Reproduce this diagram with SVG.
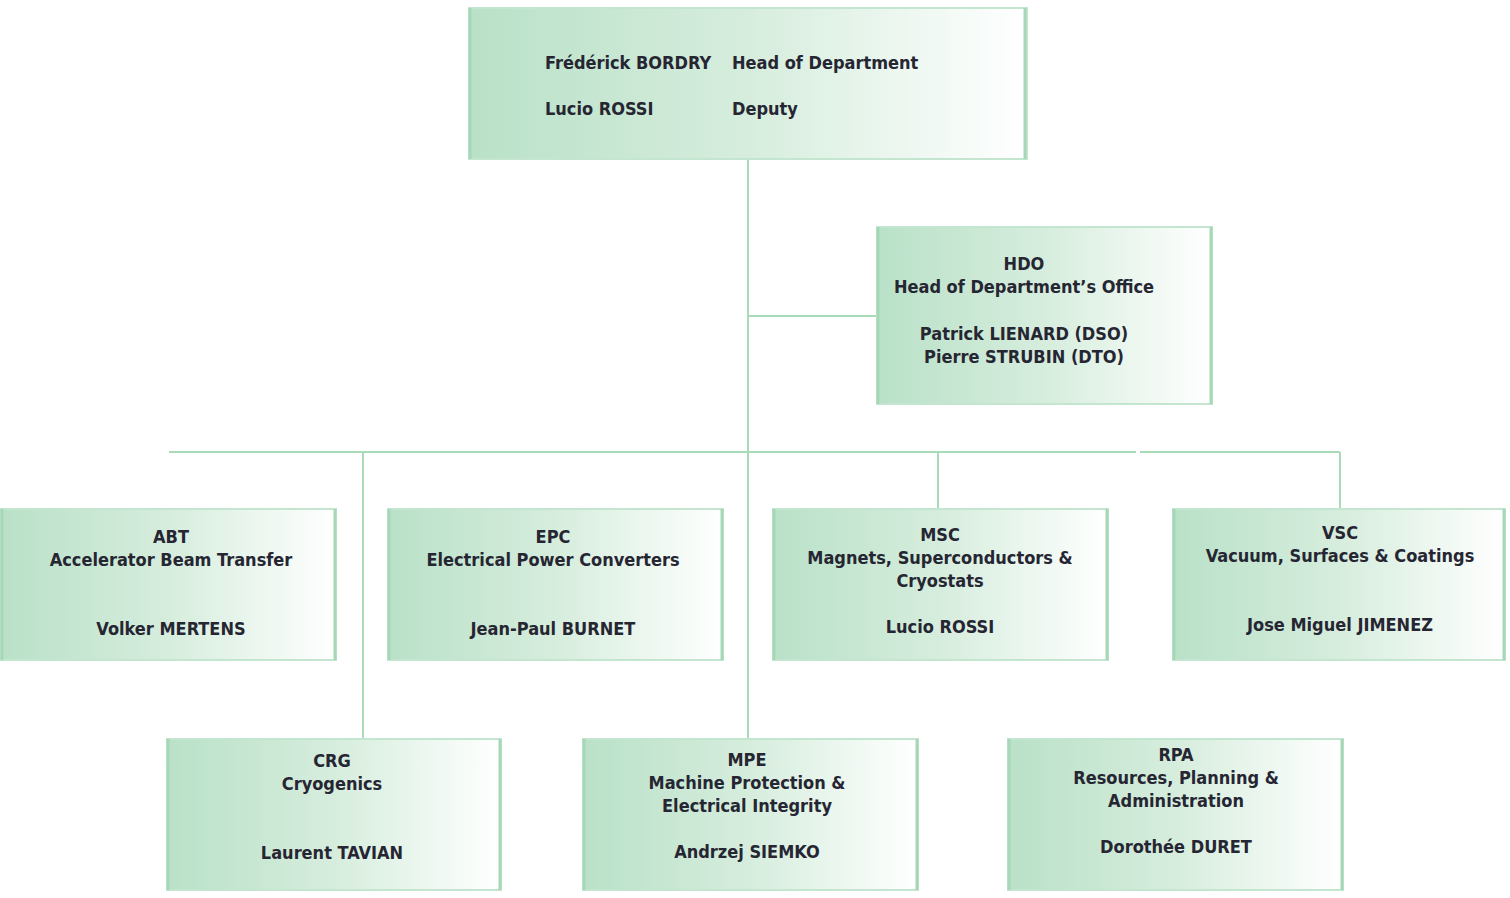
<svg xmlns="http://www.w3.org/2000/svg" width="1510" height="898" viewBox="0 0 1510 898">
<defs>
<linearGradient id="g" x1="0" y1="0" x2="1" y2="0">
<stop offset="0" stop-color="#b9e1c8"/>
<stop offset="0.5" stop-color="#d6eddd"/>
<stop offset="1" stop-color="#ffffff"/>
</linearGradient>
</defs>
<style>
.box{fill:url(#g);stroke:#c4e5cf;stroke-width:2}
.edge{stroke:#a6d8b6;stroke-width:3}
.t{font-family:"DejaVu Sans Condensed","DejaVu Sans",sans-serif;font-weight:bold;font-size:18px;fill:#262633}
.c{text-anchor:middle}
.ln{stroke:#a9dbb9;stroke-width:2;fill:none}
</style>
<rect width="1510" height="898" fill="#fff"/>
<g id="connectors">
<line class="ln" x1="748" y1="160" x2="748" y2="739"/>
<line class="ln" x1="748" y1="316" x2="877" y2="316"/>
<line class="ln" x1="169" y1="452" x2="1136" y2="452"/>
<line class="ln" x1="1140" y1="452" x2="1340" y2="452"/>
<line class="ln" x1="363" y1="452" x2="363" y2="739"/>
<line class="ln" x1="938" y1="452" x2="938" y2="509"/>
<line class="ln" x1="1340" y1="452" x2="1340" y2="509"/>
</g>
<g id="head">
<rect class="box" x="469" y="8" width="558" height="151"/>
<line class="edge" x1="470" y1="8" x2="470" y2="159"/><line class="edge" x1="1025" y1="8" x2="1025" y2="159"/>
<text class="t" x="545" y="69">Frédérick BORDRY</text>
<text class="t" x="732" y="69">Head of Department</text>
<text class="t" x="545" y="115">Lucio ROSSI</text>
<text class="t" x="732" y="115">Deputy</text>
</g>
<g id="hdo">
<rect class="box" x="877" y="227" width="335" height="177"/>
<line class="edge" x1="878" y1="227" x2="878" y2="404"/><line class="edge" x1="1211" y1="227" x2="1211" y2="404"/>
<text class="t c" x="1024" y="270">HDO</text>
<text class="t c" x="1024" y="293">Head of Department’s Office</text>
<text class="t c" x="1024" y="340">Patrick LIENARD (DSO)</text>
<text class="t c" x="1024" y="363">Pierre STRUBIN (DTO)</text>
</g>
<g id="abt">
<rect class="box" x="1" y="509" width="335" height="151"/>
<line class="edge" x1="2" y1="509" x2="2" y2="660"/><line class="edge" x1="335" y1="509" x2="335" y2="660"/>
<text class="t c" x="171" y="543">ABT</text>
<text class="t c" x="171" y="566">Accelerator Beam Transfer</text>
<text class="t c" x="171" y="635">Volker MERTENS</text>
</g>
<g id="epc">
<rect class="box" x="388" y="509" width="335" height="151"/>
<line class="edge" x1="389" y1="509" x2="389" y2="660"/><line class="edge" x1="722" y1="509" x2="722" y2="660"/>
<text class="t c" x="553" y="543">EPC</text>
<text class="t c" x="553" y="566">Electrical Power Converters</text>
<text class="t c" x="553" y="635">Jean-Paul BURNET</text>
</g>
<g id="msc">
<rect class="box" x="773" y="509" width="335" height="151"/>
<line class="edge" x1="774" y1="509" x2="774" y2="660"/><line class="edge" x1="1107" y1="509" x2="1107" y2="660"/>
<text class="t c" x="940" y="541">MSC</text>
<text class="t c" x="940" y="564">Magnets, Superconductors &amp;</text>
<text class="t c" x="940" y="587">Cryostats</text>
<text class="t c" x="940" y="633">Lucio ROSSI</text>
</g>
<g id="vsc">
<rect class="box" x="1173" y="509" width="332" height="151"/>
<line class="edge" x1="1174" y1="509" x2="1174" y2="660"/><line class="edge" x1="1504" y1="509" x2="1504" y2="660"/>
<text class="t c" x="1340" y="539">VSC</text>
<text class="t c" x="1340" y="562">Vacuum, Surfaces &amp; Coatings</text>
<text class="t c" x="1340" y="631">Jose Miguel JIMENEZ</text>
</g>
<g id="crg">
<rect class="box" x="167" y="739" width="334" height="151"/>
<line class="edge" x1="168" y1="739" x2="168" y2="890"/><line class="edge" x1="500" y1="739" x2="500" y2="890"/>
<text class="t c" x="332" y="767">CRG</text>
<text class="t c" x="332" y="790">Cryogenics</text>
<text class="t c" x="332" y="859">Laurent TAVIAN</text>
</g>
<g id="mpe">
<rect class="box" x="583" y="739" width="335" height="151"/>
<line class="edge" x1="584" y1="739" x2="584" y2="890"/><line class="edge" x1="917" y1="739" x2="917" y2="890"/>
<text class="t c" x="747" y="766">MPE</text>
<text class="t c" x="747" y="789">Machine Protection &amp;</text>
<text class="t c" x="747" y="812">Electrical Integrity</text>
<text class="t c" x="747" y="858">Andrzej SIEMKO</text>
</g>
<g id="rpa">
<rect class="box" x="1008" y="739" width="335" height="151"/>
<line class="edge" x1="1009" y1="739" x2="1009" y2="890"/><line class="edge" x1="1342" y1="739" x2="1342" y2="890"/>
<text class="t c" x="1176" y="761">RPA</text>
<text class="t c" x="1176" y="784">Resources, Planning &amp;</text>
<text class="t c" x="1176" y="807">Administration</text>
<text class="t c" x="1176" y="853">Dorothée DURET</text>
</g>
</svg>
